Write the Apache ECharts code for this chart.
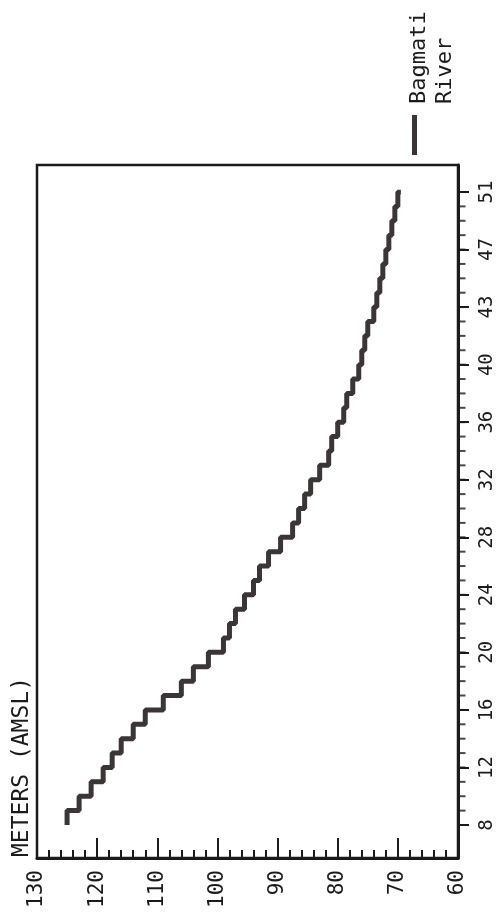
<!DOCTYPE html>
<html>
<head>
<meta charset="utf-8">
<script src="https://cdn.jsdelivr.net/npm/echarts@6/dist/echarts.min.js"></script>
<style>
  html, body { margin: 0; padding: 0; background: #ffffff; }
  #chart { width: 500px; height: 917px; }
</style>
</head>
<body>
<div id="chart"></div>
<script>
// Distance tick labels along the river (one label every 4 ticks)
const positionLabels = ['8', '12', '16', '20', '24', '28', '32', '36', '40', '43', '47', '51'];
// Elevation (meters AMSL) at each tick, from the first labelled tick (8) to the last (51)
const elevation = [
  125, 123, 121, 119, 117.5, 116, 114, 112, 109, 106,
  104, 101.5, 99, 98, 97, 95.5, 94, 93, 91.5, 89.5,
  87.5, 86.5, 85.5, 84.5, 83, 81.5, 81, 80, 79, 78.5,
  77.5, 76.5, 76, 75.5, 75, 74, 73.5, 73, 72.5, 72,
  71.5, 71, 70.5, 70, 69.5
];
const seriesName = 'Bagmati River';
const axisTitle = 'METERS (AMSL)';
const legendLines = ['Bagmati', 'River'];
const meterMin = 60, meterMax = 130;

// Staircase: hold each elevation up to the next tick, then drop to the next elevation
const stepData = [];
elevation.forEach((v, i) => {
  stepData.push([v, i]);
  if (i < elevation.length - 1) stepData.push([v, i + 1]);
});
const lastTick = elevation.length - 1;
// one small outward tick per distance step, placed on the right axis edge
const minorTickData = elevation.map((_, i) => [meterMin, i]);

const ink = '#1c1a1a';
const mono = '"DejaVu Sans Mono", "Liberation Mono", monospace';
const labelFmt = (v) => positionLabels[Math.round(v / 4)] || '';

const chart = echarts.init(document.getElementById('chart'), null, { renderer: 'canvas' });
chart.setOption({
  backgroundColor: '#ffffff',
  animation: false,
  tooltip: { show: false },
  grid: [
    { left: 37, right: 42, top: 165, bottom: 59, show: true, borderColor: ink, borderWidth: 2.5, backgroundColor: 'transparent' },
    { left: 37, right: 42, top: 192, bottom: 92, show: false }
  ],
  xAxis: [
    {
      gridIndex: 0, type: 'value', position: 'bottom', inverse: true,
      min: meterMin, max: meterMax, interval: 10,
      axisLine: { show: true, onZero: false, lineStyle: { color: ink, width: 3 } },
      axisTick: { show: true, inside: true, length: 20, lineStyle: { color: ink, width: 2 } },
      minorTick: { show: true, splitNumber: 5, length: 8, lineStyle: { color: ink, width: 2 } },
      splitLine: { show: false },
      axisLabel: { rotate: 90, margin: 12, color: ink, fontFamily: mono, fontSize: 21 }
    },
    {
      gridIndex: 1, type: 'value', inverse: true, min: meterMin, max: meterMax, show: false
    }
  ],
  yAxis: [
    {
      gridIndex: 0, type: 'value', position: 'right', min: 0, max: 1,
      axisLine: { show: true, onZero: false, lineStyle: { color: ink, width: 3 } },
      axisTick: { show: false }, axisLabel: { show: false }, splitLine: { show: false }
    },
    {
      gridIndex: 1, type: 'value', position: 'right', offset: 11, min: 0, max: lastTick, interval: 4,
      axisLine: { show: false, onZero: false },
      axisTick: { show: true, inside: true, length: 11, lineStyle: { color: ink, width: 2 } },
      minorTick: { show: false },
      splitLine: { show: false },
      axisLabel: {
        show: true, rotate: 90, margin: 9, color: ink, fontFamily: mono, fontSize: 19,
        formatter: labelFmt
      }
    }
  ],
  series: [
    {
      name: seriesName,
      type: 'line',
      xAxisIndex: 1,
      yAxisIndex: 1,
      showSymbol: false,
      data: stepData,
      lineStyle: { color: '#3b3536', width: 5, join: 'bevel' }
    },
    {
      name: 'ticks',
      type: 'scatter',
      xAxisIndex: 1,
      yAxisIndex: 1,
      clip: false,
      silent: true,
      symbol: 'rect',
      symbolSize: [7, 2],
      symbolOffset: [4, 0],
      itemStyle: { color: ink },
      data: minorTickData
    }
  ],
  graphic: [
    {
      type: 'text', x: 22, y: 857, rotation: Math.PI / 2,
      style: { text: axisTitle, fill: ink, font: '23px ' + mono, textAlign: 'left', verticalAlign: 'middle' }
    },
    {
      type: 'text', x: 419, y: 104, rotation: Math.PI / 2,
      style: { text: legendLines[0], fill: ink, font: '22px ' + mono, textAlign: 'left', verticalAlign: 'middle' }
    },
    {
      type: 'text', x: 445, y: 104, rotation: Math.PI / 2,
      style: { text: legendLines[1], fill: ink, font: '22px ' + mono, textAlign: 'left', verticalAlign: 'middle' }
    },
    {
      type: 'rect', shape: { x: 412, y: 115, width: 5, height: 40 },
      style: { fill: '#3b3536' }
    }
  ]
});
</script>
</body>
</html>
